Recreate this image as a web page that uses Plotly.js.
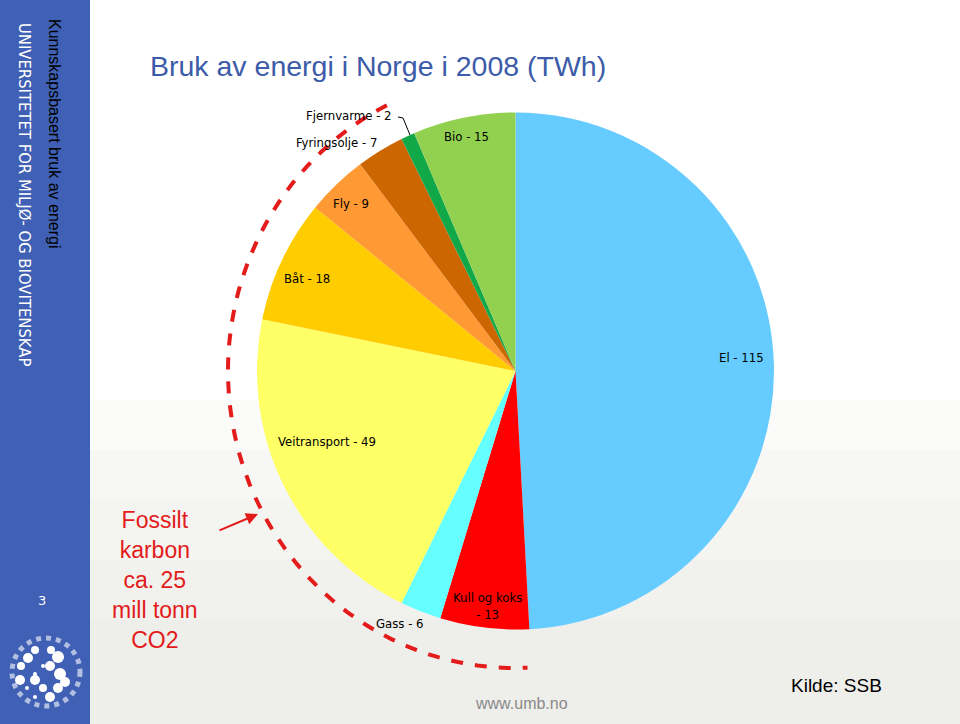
<!DOCTYPE html>
<html>
<head>
<meta charset="utf-8">
<script src="https://cdn.plot.ly/plotly-3.0.1.min.js"></script>
<style>
  html, body { margin: 0; padding: 0; background: #ffffff; }
  #chart { width: 960px; height: 724px; }
</style>
</head>
<body>
<div id="chart"></div>
<script>
// Energibruk i Norge 2008, TWh (kilde: SSB)
const categories = ["El", "Kull og koks", "Gass", "Veitransport", "Båt", "Fly", "Fyringsolje", "Fjernvarme", "Bio"];
const values = [115, 13, 6, 49, 18, 9, 7, 2, 15];
const sliceColors = ["#66ccff", "#ff0000", "#66ffff", "#ffff66", "#ffcc00", "#ff9933", "#cc6600", "#11a84a", "#92d050"];
const labelText = ["El - 115", "Kull og koks<br>- 13", "Gass - 6", "Veitransport - 49", "Båt - 18", "Fly - 9", "Fyringsolje - 7", "Fjernvarme - 2", "Bio - 15"];
const labelPos = [[741, 357], [487, 606], [400, 623], [327, 441], [307, 278], [351, 203], [336, 142], [349, 115], [466, 136]];

const labelFont = { family: "DejaVu Sans Condensed, Liberation Sans, sans-serif", size: 13, color: "#000000" };

const pieTrace = {
  type: "pie",
  labels: categories,
  values: values,
  sort: false,
  direction: "clockwise",
  rotation: 0,
  textposition: "none",
  hoverinfo: "label+value",
  marker: { colors: sliceColors, line: { width: 0 } },
  domain: { x: [257 / 960, 774 / 960], y: [94 / 724, 612 / 724] },
  showlegend: false
};

// red dashed arc round the fossil slices (pixel space)
const arc = { cx: 515, cy: 371, rx: 287, ry: 297, from: 243.5, to: 87 };
let arcPath = "";
for (let a = arc.from; a >= arc.to; a -= 2) {
  const t = a * Math.PI / 180;
  const px = arc.cx + arc.rx * Math.cos(t);
  const py = arc.cy + arc.ry * Math.sin(t);
  arcPath += (arcPath ? " L " : "M ") + px.toFixed(1) + "," + py.toFixed(1);
}

const logoDots = [[35, 650, 4], [51, 650, 4], [28, 658, 5], [58, 657, 6], [21, 666, 4], [43, 666, 2], [50, 666, 5],
  [35, 674, 2], [60, 674, 6], [20, 680, 5], [35, 680, 5], [65, 682, 5], [43, 688, 4], [58, 688, 5], [27, 688, 2],
  [50, 697, 5], [35, 697, 2]];

const shapes = [
  { type: "rect", xref: "paper", yref: "paper", x0: 0, x1: 90 / 960, y0: 0, y1: 1,
    fillcolor: "#3f60b4", line: { width: 0 }, layer: "below" }
];
// faded dotted backdrop in the lower part of the slide
[400, 450, 500, 560, 620].forEach(y0 => shapes.push({
  type: "rect", xref: "x", yref: "y", x0: 90, x1: 960, y0: y0, y1: 724,
  fillcolor: "rgba(225,225,215,0.13)", line: { width: 0 }, layer: "below"
}));
shapes.push(
  { type: "path", xref: "x", yref: "y", path: arcPath,
    line: { color: "#e31b1b", width: 4, dash: "dash" } },
  { type: "path", xref: "x", yref: "y", path: "M 398,117 L 403,118 L 410,135",
    line: { color: "#000000", width: 1 } },
  { type: "circle", xref: "x", yref: "y", x0: 12, x1: 80, y0: 638, y1: 706,
    line: { color: "rgba(255,255,255,0.6)", width: 5, dash: "dot" } }
);
logoDots.forEach(d => shapes.push({
  type: "circle", xref: "x", yref: "y",
  x0: d[0] - d[2], x1: d[0] + d[2], y0: d[1] - d[2], y1: d[1] + d[2],
  fillcolor: "#ffffff", line: { width: 0 }
}));

const annotations = labelText.map((t, i) => ({
  xref: "x", yref: "y", x: labelPos[i][0], y: labelPos[i][1],
  text: t, showarrow: false, font: labelFont, xanchor: "center", yanchor: "middle"
}));

annotations.push(
  { xref: "x", yref: "y", x: 148, y: 66, xanchor: "left", yanchor: "middle", showarrow: false,
    text: "Bruk av energi i Norge i 2008 (TWh)",
    font: { family: "Liberation Sans, Arial, sans-serif", size: 28.5, color: "#3c5ba8" } },
  { xref: "x", yref: "y", x: 55, y: 133, textangle: 90, xanchor: "center", yanchor: "middle", showarrow: false,
    text: "Kunnskapsbasert bruk av energi",
    font: { family: "Liberation Sans, Arial, sans-serif", size: 16, color: "#000000" } },
  { xref: "x", yref: "y", x: 25, y: 194, textangle: 90, xanchor: "center", yanchor: "middle", showarrow: false,
    text: "UNIVERSITETET FOR MILJØ- OG BIOVITENSKAP",
    font: { family: "DejaVu Sans Condensed, DejaVu Sans, sans-serif", size: 16.5, color: "#ffffff" } },
  { xref: "x", yref: "y", x: 42, y: 600, showarrow: false, text: "3",
    font: { family: "DejaVu Sans, sans-serif", size: 13, color: "#ffffff" } },
  { xref: "x", yref: "y", x: 155, y: 580, xanchor: "center", yanchor: "middle", showarrow: false,
    text: "Fossilt<br>karbon<br>ca. 25<br>mill tonn<br>CO2",
    font: { family: "Liberation Sans, Arial, sans-serif", size: 23, color: "#e31b1b" } },
  { xref: "x", yref: "y", axref: "x", ayref: "y", x: 258, y: 514, ax: 218, ay: 531,
    showarrow: true, arrowhead: 2, arrowsize: 1.2, arrowwidth: 2, arrowcolor: "#e31b1b", text: "" },
  { xref: "x", yref: "y", x: 836, y: 685, showarrow: false, text: "Kilde: SSB",
    font: { family: "Liberation Sans, Arial, sans-serif", size: 19, color: "#000000" } },
  { xref: "x", yref: "y", x: 521, y: 703, showarrow: false, text: "www.umb.no",
    font: { family: "Liberation Sans, Arial, sans-serif", size: 16, color: "#8a8a8a" } }
);

const layout = {
  width: 960,
  height: 724,
  margin: { l: 0, r: 0, t: 0, b: 0, pad: 0 },
  paper_bgcolor: "#ffffff",
  plot_bgcolor: "rgba(0,0,0,0)",
  xaxis: { range: [0, 960], visible: false, fixedrange: true },
  yaxis: { range: [724, 0], visible: false, fixedrange: true },
  shapes: shapes,
  annotations: annotations,
  showlegend: false
};

Plotly.newPlot("chart", [pieTrace], layout, { displayModeBar: false, staticPlot: true });
</script>
</body>
</html>
